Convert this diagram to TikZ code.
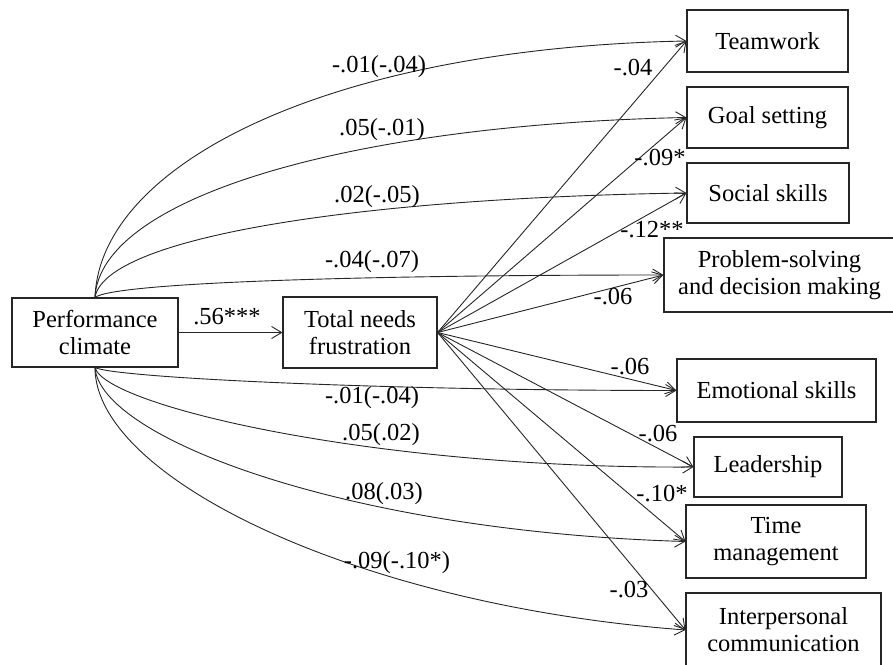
\documentclass[tikz,border=0pt]{standalone}
\usepackage{fontspec}
\setmainfont{Liberation Serif}
\usetikzlibrary{arrows.meta}

\begin{document}
\begin{tikzpicture}[x=1pt,y=1pt,
  box/.style={draw=black!85, line width=1.1pt, align=center, inner sep=0pt,
    font=\fontsize{24.5}{27}\selectfont},
  link/.style={->, draw=black!85, line width=0.9pt},
  coef/.style={font=\fontsize{24.5}{27}\selectfont, inner sep=0pt},
  >={Straight Barb[length=10pt,width=12pt]}]
\useasboundingbox (0,0) rectangle (893,664);

% Predictor and mediator
\node[box, minimum width=166pt, minimum height=69pt] (pc) at (95,331.5) {Performance\\climate};
\node[box, minimum width=154pt, minimum height=71pt] (tnf) at (360,331.5) {Total needs\\frustration};

% Outcomes
\node[box, minimum width=161pt, minimum height=62pt] (tw) at (767.5,623) {Teamwork};
\node[box, minimum width=161pt, minimum height=61pt] (gs) at (767.5,546.5) {Goal setting};
\node[box, minimum width=162pt, minimum height=60pt] (ss) at (768,471) {Social skills};
\node[box, minimum width=231pt, minimum height=74pt] (ps) at (779.5,389) {Problem-solving\\and decision making};
\node[box, minimum width=199pt, minimum height=63pt] (es) at (776.5,273.5) {Emotional skills};
\node[box, minimum width=148pt, minimum height=60pt] (ld) at (768,197) {Leadership};
\node[box, minimum width=180pt, minimum height=73pt] (tm) at (776,122.5) {Time\\management};
\node[box, minimum width=195pt, minimum height=74pt] (ic) at (783.5,34) {Interpersonal\\communication};

% a path
\draw[link] (pc.east) -- (tnf.west);
\node[coef] (a) at (227,347) {.56***};

% Direct paths from performance climate
\foreach \t/\p/\q in {tw/{5,134}/{-357,-7}, gs/{5,100}/{-337,-7}, ss/{10,60}/{-330,-5}, ps/{20,15}/{-300,0}}
  \draw[link] (pc.north) .. controls +(\p) and +(\q) .. (\t.west);
\foreach \t/\p/\q in {es/{20,-10}/{-300,0}, ld/{10,-38}/{-320,-2}, tm/{5,-70}/{-340,10}, ic/{0,-110}/{-330,25}}
  \draw[link] (pc.south) .. controls +(\p) and +(\q) .. (\t.west);

% b paths from total needs frustration
\foreach \t in {tw,gs,ss,ps,es,ld,tm,ic}
  \draw[link] (tnf.east) -- (\t.west);

% Coefficients
\foreach \n/\x/\y/\c in {c1/379/597/-.01(-.04), c2/382/534/.05(-.01), c3/377/467/.02(-.05),
    c4/372/402/-.04(-.07), c5/372/266/-.01(-.04), c6/381/229/.05(.02),
    c7/384/170/.08(.03), c8/397/101/-.09(-.10*)}
  \node[coef] (\n) at (\x,\y) {\c};
\foreach \n/\x/\y/\c in {b1/633/596/-.04, b2/660/506/-.09*, b3/652/434/-.12**,
    b4/613/367/-.06, b5/630/297/-.06, b6/658/230/-.06, b7/662/170/-.10*, b8/629/74/-.03}
  \node[coef] (\n) at (\x,\y) {\c};
\end{tikzpicture}
\end{document}
